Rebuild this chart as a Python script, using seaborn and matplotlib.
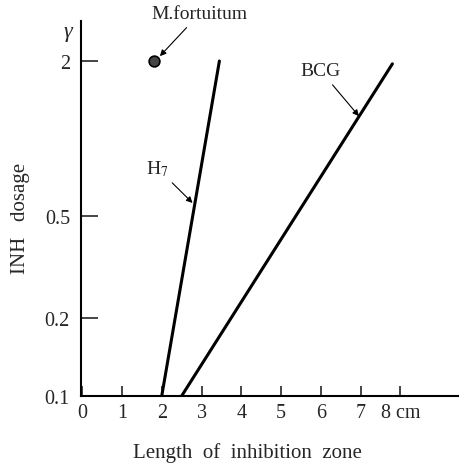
import matplotlib
matplotlib.use("Agg")
import matplotlib.pyplot as plt
import seaborn as sns
import pandas as pd

# ---- data ----
h7_x = [2.0, 3.45]
h7_y = [0.1, 2.0]
bcg_x = [2.5, 7.8]
bcg_y = [0.1, 1.95]
mf_x = [1.8]
mf_y = [2.0]
x_ticks = [0, 1, 2, 3, 4, 5, 6, 7, 8]
x_labels = ["0", "1", "2", "3", "4", "5", "6", "7", "8 cm"]
y_ticks = [0.1, 0.2, 0.5, 2]
y_labels = ["0.1", "0.2", "0.5", "2"]

sns.set_style("ticks")
plt.rcParams["font.family"] = ["Liberation Serif", "DejaVu Serif"]
plt.rcParams["mathtext.fontset"] = "stix"

fig = plt.figure(figsize=(4.6, 4.64), dpi=100)
ax = fig.add_axes([81 / 460, 1 - 397 / 464, 1 - 81 / 460, (397 - 22) / 464])

df_h7 = pd.DataFrame({"x": h7_x, "y": h7_y})
df_bcg = pd.DataFrame({"x": bcg_x, "y": bcg_y})
df_mf = pd.DataFrame({"x": mf_x, "y": mf_y})

sns.lineplot(data=df_h7, x="x", y="y", ax=ax, color="black", linewidth=2.2, sort=False)
sns.lineplot(data=df_bcg, x="x", y="y", ax=ax, color="black", linewidth=2.2, sort=False)
sns.scatterplot(data=df_mf, x="x", y="y", ax=ax, color="#444444", edgecolor="black",
                s=60, linewidth=1.2, zorder=5)

ax.set_yscale("log")
ax.set_xlim(-0.03, 9.5)
ax.set_ylim(0.1, 2.86)

ax.set_xticks(x_ticks)
ax.set_xticklabels(x_labels, fontsize=14.5)
ax.set_yticks(y_ticks)
ax.set_yticklabels(y_labels, fontsize=14.5)
ax.minorticks_off()
ax.tick_params(axis="x", direction="in", length=7, width=1.2, pad=5)
ax.tick_params(axis="y", direction="in", length=12, width=1.2, pad=8)

for s in ["top", "right"]:
    ax.spines[s].set_visible(False)
for s in ["left", "bottom"]:
    ax.spines[s].set_linewidth(1.5)
    ax.spines[s].set_color("black")

ax.set_xlabel("Length  of  inhibition  zone", fontsize=15)
ax.set_ylabel("INH   dosage", fontsize=15)
ax.xaxis.set_label_coords(0.438, -0.123)
ax.yaxis.set_label_coords(-0.135, 0.475)

arrow = dict(arrowstyle="-|>", color="black", lw=0.8, mutation_scale=9, shrinkA=2, shrinkB=1)
ax.annotate("M.fortuitum", xy=(1.93, 2.07), xytext=(2.95, 3.05), fontsize=14,
            ha="center", va="center", arrowprops=arrow, annotation_clip=False)
ax.annotate("H$_7$", xy=(2.8, 0.557), xytext=(1.88, 0.77), fontsize=14,
            ha="center", va="center", arrowprops=arrow)
ax.annotate("BCG", xy=(6.98, 1.21), xytext=(6.0, 1.83), fontsize=14,
            ha="center", va="center", arrowprops=arrow)

fig.text(68 / 460, 1 - 32 / 464, "γ", fontsize=16, ha="center", va="center", style="italic")

fig.savefig("out.png", dpi=100)
